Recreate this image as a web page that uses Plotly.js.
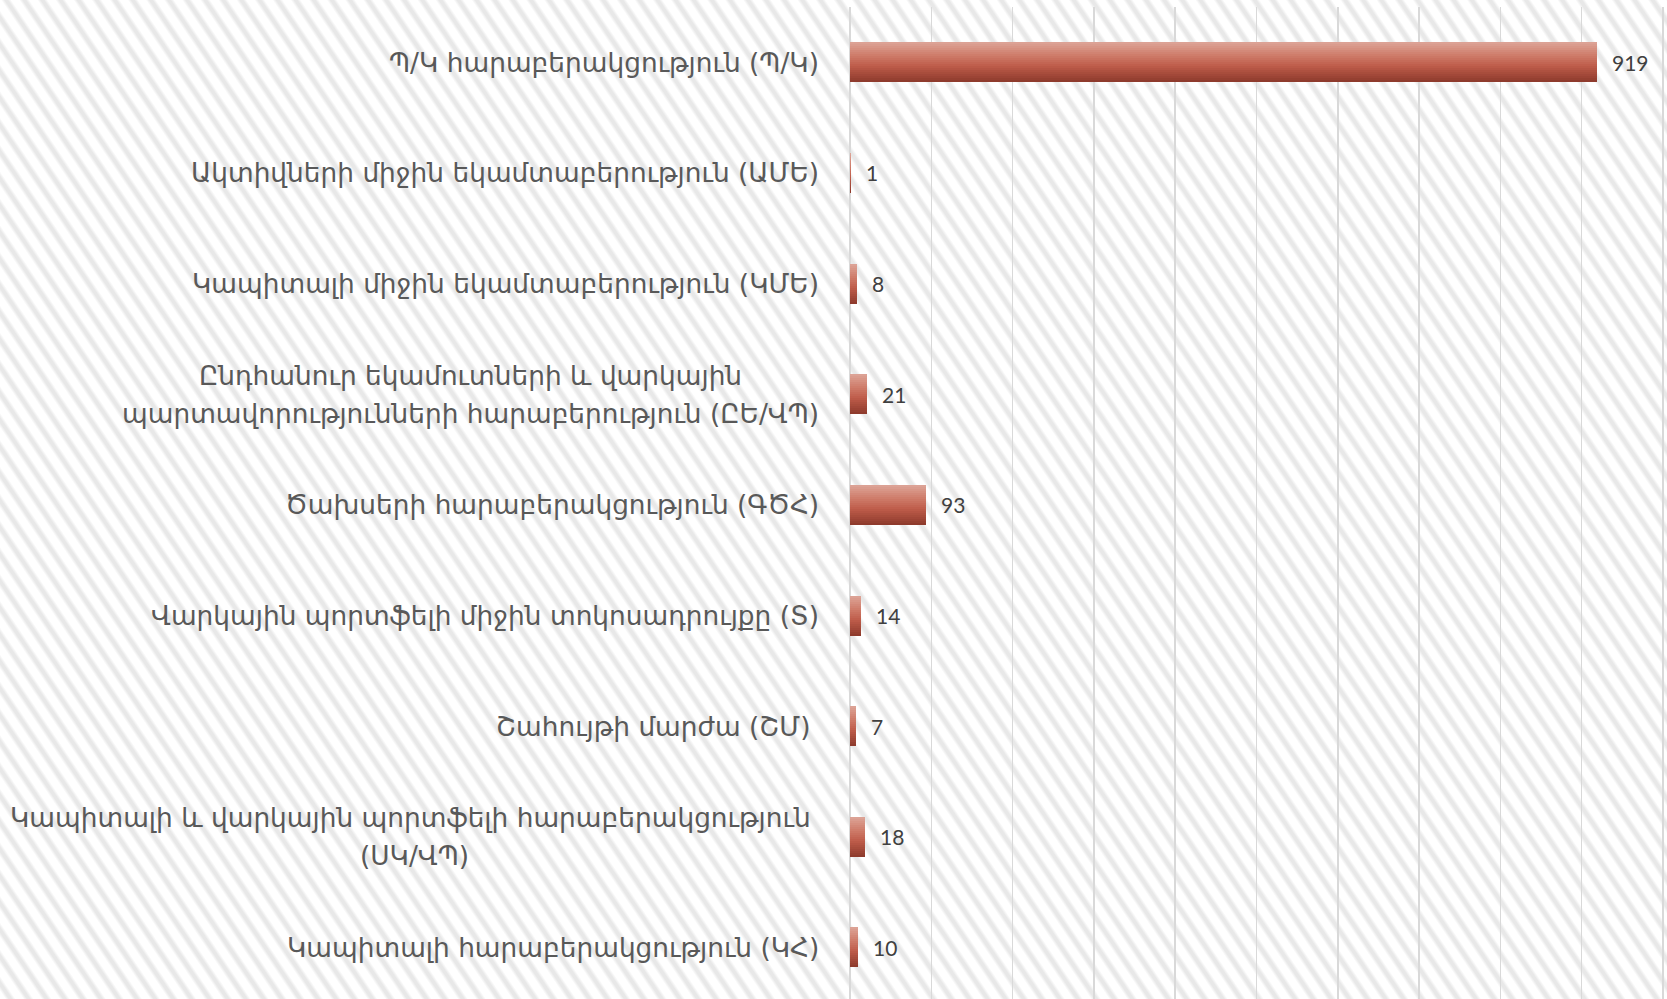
<!DOCTYPE html>
<html>
<head>
<meta charset="utf-8">
<script src="https://cdn.plot.ly/plotly-3.0.1.min.js"></script>
<style>
html,body{margin:0;padding:0;overflow:hidden;width:1667px;height:999px;}
body{background:repeating-linear-gradient(56deg,#ffffff 0px,#ffffff 4.5px,#e8e8e8 7.5px,#e8e8e8 10px,#ffffff 13px,#ffffff 15px);}
#chart{width:1667px;height:999px;}
</style>
</head>
<body>
<div id="chart"></div>
<script>
// ---- data ----
var categories = [
  ["Պ/Կ հարաբերակցություն (Պ/Կ)"],
  ["Ակտիվների միջին եկամտաբերություն (ԱՄԵ)"],
  ["Կապիտալի միջին եկամտաբերություն (ԿՄԵ)"],
  ["Ընդհանուր եկամուտների և վարկային", "պարտավորությունների հարաբերություն (ԸԵ/ՎՊ)"],
  ["Ծախսերի հարաբերակցություն (ԳԾՀ)"],
  ["Վարկային պորտֆելի միջին տոկոսադրույքը (Տ)"],
  ["Շահույթի մարժա (ՇՄ)\u00a0"],
  ["Կապիտալի և վարկային պորտֆելի հարաբերակցություն\u00a0", "(ՍԿ/ՎՊ)"],
  ["Կապիտալի հարաբերակցություն (ԿՀ)"]
];
var values = [919, 1, 8, 21, 93, 14, 7, 18, 10];
var catKeys = categories.map(function(c, i){ return "c" + i; });

// ---- style ----
var labelFont = {family: "DejaVu Sans", size: 26.4, color: "#595959"};
var valueFont = {family: "Lato, 'Liberation Sans', sans-serif", size: 21, color: "#404040"};
var gradStops = [[0, [221,165,152]], [0.35, [206,122,104]], [0.6, [190,92,74]], [1, [140,57,43]]];
function gradColor(t){
  for (var i = 1; i < gradStops.length; i++){
    if (t <= gradStops[i][0]){
      var a = gradStops[i-1], b = gradStops[i];
      var f = (t - a[0]) / (b[0] - a[0]);
      var c = a[1].map(function(v, k){ return Math.round(v + (b[1][k] - v) * f); });
      return "rgb(" + c.join(",") + ")";
    }
  }
  return "rgb(140,57,43)";
}

var barWidth = 0.362;
var nSlices = 20;
var sliceW = barWidth / nSlices;
var traces = [];
for (var k = 0; k < nSlices; k++){
  traces.push({
    type: "bar",
    orientation: "h",
    x: values,
    y: catKeys,
    offset: -barWidth/2 + k*sliceW,
    width: sliceW + (k < nSlices - 1 ? 0.004 : 0),
    marker: {color: gradColor((k + 0.5) / nSlices), line: {width: 0}},
    hoverinfo: "skip",
    showlegend: false
  });
}

// measure text for centering multi-line labels
var ctx = document.createElement("canvas").getContext("2d");
ctx.font = labelFont.size + "px " + labelFont.family;
function tw(s){ return ctx.measureText(s).width; }

var annotations = [];
var rightGap = 30;
var lineGap = 38;
categories.forEach(function(lines, i){
  var maxW = Math.max.apply(null, lines.map(tw));
  lines.forEach(function(line, j){
    var w = tw(line);
    annotations.push({
      xref: "paper", yref: "y", x: 0, y: catKeys[i],
      xanchor: "right", yanchor: "middle",
      xshift: -rightGap - (maxW - w) / 2,
      yshift: (lines.length - 1) * lineGap / 2 - j * lineGap,
      text: line, showarrow: false, font: labelFont, borderpad: 0
    });
  });
  annotations.push({
    xref: "x", yref: "y", x: values[i], y: catKeys[i],
    xanchor: "left", yanchor: "middle", xshift: 14,
    text: String(values[i]), showarrow: false, font: valueFont, borderpad: 0
  });
});

var layout = {
  width: 1667, height: 999,
  margin: {l: 850, r: 0, t: 7, b: 0, pad: 0},
  paper_bgcolor: "rgba(0,0,0,0)",
  plot_bgcolor: "rgba(0,0,0,0)",
  barmode: "overlay",
  bargap: 0,
  xaxis: {range: [0, 1005], dtick: 100, tick0: 0, showticklabels: false, ticks: "",
          showgrid: true, gridcolor: "#d9d9d9", gridwidth: 1.5,
          zeroline: true, zerolinecolor: "#d9d9d9", zerolinewidth: 1.5, showline: false, fixedrange: true},
  yaxis: {type: "category", categoryarray: catKeys, range: [8.466, -0.5],
          showticklabels: false, ticks: "", showgrid: false, zeroline: false, showline: false, fixedrange: true},
  annotations: annotations
};

Plotly.newPlot("chart", traces, layout, {displayModeBar: false, staticPlot: true});
</script>
</body>
</html>
